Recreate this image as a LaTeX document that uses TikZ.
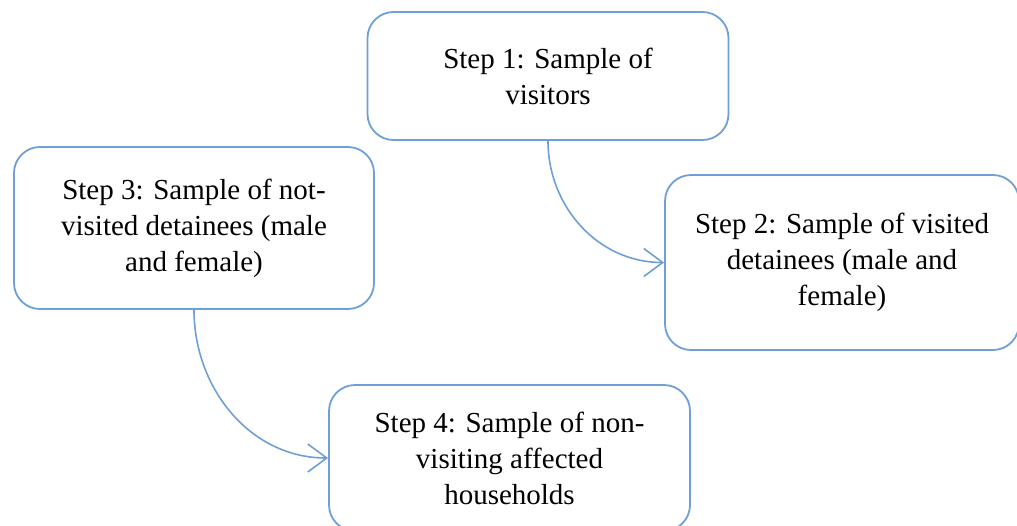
\documentclass[tikz,border=0pt]{standalone}
\usepackage{fontspec}
\setmainfont{Liberation Serif}
\usepackage{tikz}
\usetikzlibrary{arrows.meta,positioning}

\definecolor{boxblue}{RGB}{110,160,215}
\tikzset{
  stepbox/.style={draw=boxblue,line width=1.8pt,rounded corners=26pt,align=center,
    font=\fontsize{29}{36}\selectfont,inner sep=0pt},
  flow/.style={draw=boxblue,line width=1.6pt,-{Straight Barb[length=19pt,width=28pt,line width=1.6pt]}}
}

\begin{document}
\begin{tikzpicture}[x=1pt,y=-1pt]
        \useasboundingbox (0,0) rectangle (1017,525);
        \node[stepbox,minimum width=361pt,minimum height=128pt] (sample1) at (548,76)    {Step 1: Sample of\\visitors};
        \node[stepbox,minimum width=354pt,minimum height=175pt] (sample2) at (842,262.5) {Step 2: Sample of visited\\detainees (male and\\female)};
        \node[stepbox,minimum width=360pt,minimum height=162pt] (sample3) at (194,228)   {Step 3: Sample of not-\\visited detainees (male\\and female)};
        \node[stepbox,minimum width=361pt,minimum height=146pt] (sample4) at (509.5,458) {Step 4: Sample of non-\\visiting affected\\households};
        \draw[flow] (sample1.south) to[out=-90,in=180] (sample2.west);
        \draw[flow] (sample3.south) to[out=-90,in=180] (sample4.west);
    \end{tikzpicture}
\end{document}
